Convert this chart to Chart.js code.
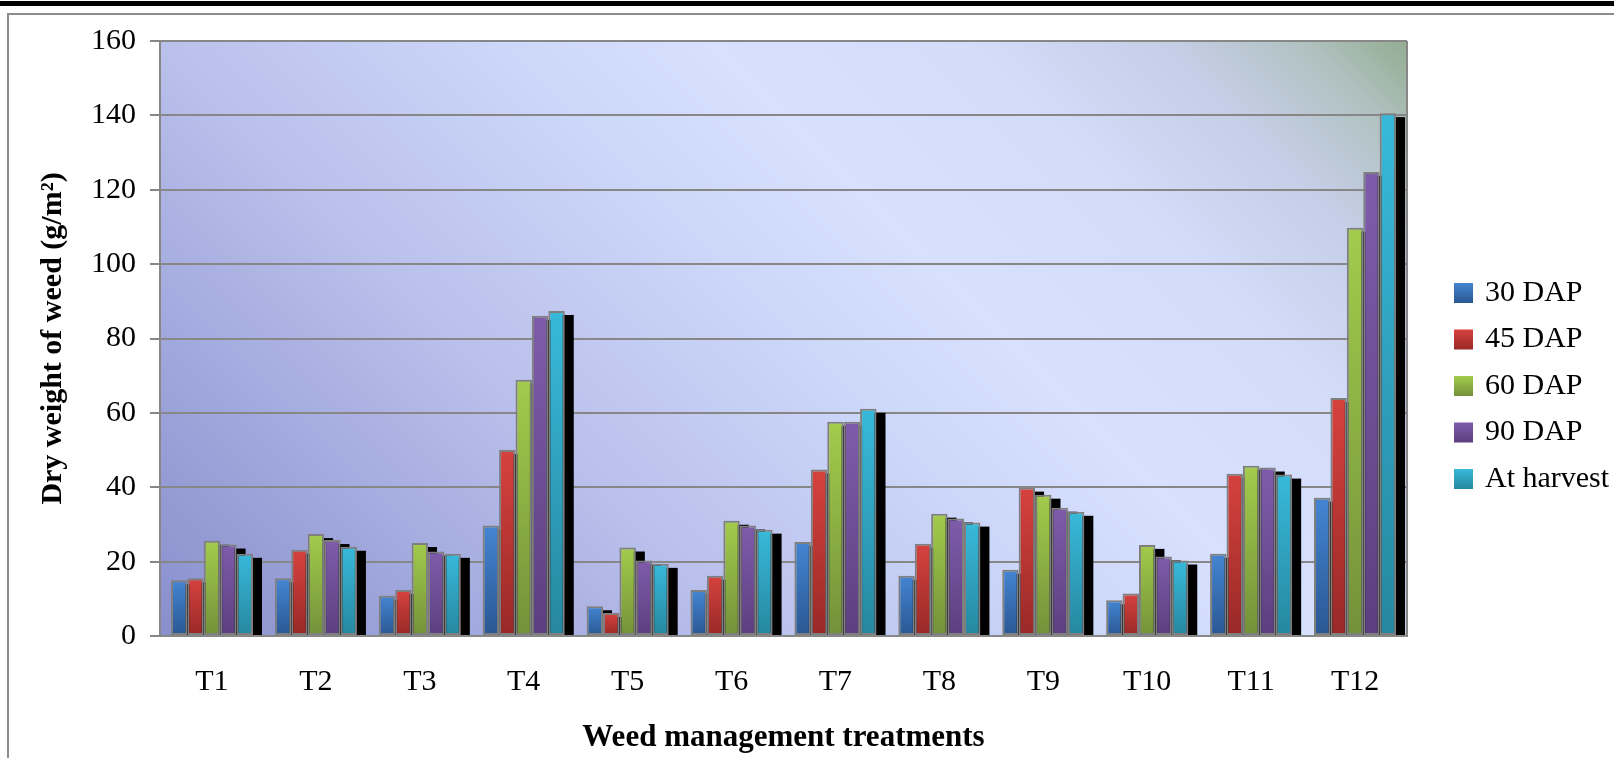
<!DOCTYPE html>
<html>
<head>
<meta charset="utf-8">
<script src="https://cdn.jsdelivr.net/npm/chart.js@4.4.1/dist/chart.umd.min.js"></script>
<style>
html,body{margin:0;padding:0;background:#fff;overflow:hidden}
#wrap{position:relative;width:1614px;height:758px}
canvas{display:block}
</style>
</head>
<body>
<div id="wrap"><canvas id="c" width="1614" height="758"></canvas></div>
<script>
// ---- data ----
const categories = ['T1','T2','T3','T4','T5','T6','T7','T8','T9','T10','T11','T12'];
const dap30     = [15.0, 15.5, 10.8, 29.7, 8.0, 12.4, 25.3, 16.2, 17.8, 9.6, 22.1, 37.2];
const dap45     = [15.5, 23.2, 12.4, 50.0, 6.2, 16.2, 44.8, 24.8, 39.9, 11.4, 43.6, 64.0];
const dap60     = [25.6, 27.4, 25.0, 68.9, 23.8, 31.0, 57.6, 32.9, 38.0, 24.5, 45.8, 109.8];
const dap90     = [24.6, 25.8, 22.7, 86.1, 20.3, 29.7, 57.6, 31.6, 34.5, 21.4, 45.3, 124.8];
const atHarvest = [22.1, 24.0, 22.1, 87.4, 19.4, 28.6, 61.1, 30.5, 33.4, 20.3, 43.4, 140.6];
const seriesNames = ['30 DAP','45 DAP','60 DAP','90 DAP','At harvest'];
const yTickValues = [0, 20, 40, 60, 80, 100, 120, 140, 160];
const xTitle = 'Weed management treatments';
const yTitle = 'Dry weight of weed (g/m\u00B2)';

// ---- styles ----
const FONT = "'Liberation Serif', 'Times New Roman', serif";
const GRID = '#878787';
const palette = [
  ['#4485d2', '#2a5792'],
  ['#d6423e', '#982927'],
  ['#a3cb4c', '#73913a'],
  ['#7f5cab', '#5c3f7f'],
  ['#38b9da', '#26879f']
];

function barFill(idx) {
  return function (ctx) {
    const chart = ctx.chart;
    const ys = chart.scales && chart.scales.y;
    if (!chart.chartArea || !ys || ctx.type !== 'data') return palette[idx][0];
    const v = ctx.parsed ? ctx.parsed.y : ctx.raw;
    const top = ys.getPixelForValue(v), base = ys.getPixelForValue(0);
    if (!isFinite(top) || !isFinite(base) || base - top < 1) return palette[idx][0];
    const g = chart.ctx.createLinearGradient(0, top, 0, base);
    g.addColorStop(0, palette[idx][0]);
    g.addColorStop(1, palette[idx][1]);
    return g;
  };
}

const frameAndBackground = {
  id: 'frameAndBackground',
  beforeDraw(chart) {
    const { ctx, chartArea: a, width, height } = chart;
    ctx.save();
    ctx.fillStyle = '#fff';
    ctx.fillRect(0, 0, width, height);
    // outer frame
    ctx.fillStyle = '#000';
    ctx.fillRect(0, 1, width, 5);
    ctx.strokeStyle = '#8c8c8c';
    ctx.lineWidth = 2;
    ctx.strokeRect(8, 14, width + 20, height + 20);
    // plot area gradient (45 degrees, bottom-left to top-right)
    const L = (a.right - a.left + a.bottom - a.top) / 2;
    const g = ctx.createLinearGradient(a.left, a.bottom, a.left + L, a.bottom - L);
    g.addColorStop(0.00, '#888fcc');
    g.addColorStop(0.16, '#a0a7dc');
    g.addColorStop(0.32, '#b9c0eb');
    g.addColorStop(0.50, '#ccd6f8');
    g.addColorStop(0.62, '#d7e0fe');
    g.addColorStop(0.76, '#d3dcf9');
    g.addColorStop(0.87, '#c4cee6');
    g.addColorStop(0.94, '#b2c2c2');
    g.addColorStop(1.00, '#93ac91');
    ctx.fillStyle = g;
    ctx.fillRect(a.left, a.top, a.right - a.left, a.bottom - a.top);
    ctx.restore();
  },
  afterDraw(chart) {
    const { ctx, chartArea: a } = chart;
    ctx.save();
    ctx.strokeStyle = GRID;
    ctx.lineWidth = 2;
    ctx.beginPath();
    ctx.moveTo(a.right, a.top);
    ctx.lineTo(a.right, a.bottom);
    ctx.stroke();
    ctx.restore();
  }
};

const barShadow = {
  id: 'barShadow',
  beforeDatasetsDraw(chart) {
    const ctx = chart.ctx;
    ctx.save();
    ctx.fillStyle = '#000';
    chart.data.datasets.forEach((ds, i) => {
      const meta = chart.getDatasetMeta(i);
      meta.data.forEach(bar => {
        const p = bar.getProps(['x', 'y', 'base', 'width'], true);
        const h = p.base - p.y - 4;
        if (h > 0) ctx.fillRect(p.x - p.width / 2 + 11, p.y + 4, p.width - 2, h);
      });
    });
    ctx.restore();
  }
};

const sideLegend = {
  id: 'sideLegend',
  afterDraw(chart) {
    const { ctx, chartArea: a } = chart;
    const x0 = a.right + 47;
    const y0 = a.top + 242;
    ctx.save();
    ctx.font = '30px ' + FONT;
    ctx.textBaseline = 'middle';
    ctx.textAlign = 'left';
    chart.data.datasets.forEach((ds, i) => {
      const y = y0 + i * 46.5;
      const g = ctx.createLinearGradient(0, y, 0, y + 20);
      g.addColorStop(0, palette[i][0]);
      g.addColorStop(1, palette[i][1]);
      ctx.fillStyle = g;
      ctx.fillRect(x0, y, 19, 20);
      ctx.fillStyle = '#000';
      ctx.fillText(ds.label, x0 + 31, y + 10);
    });
    ctx.restore();
  }
};

const seriesValues = [dap30, dap45, dap60, dap90, atHarvest];

new Chart(document.getElementById('c'), {
  type: 'bar',
  data: {
    labels: categories,
    datasets: seriesValues.map((vals, i) => ({
      label: seriesNames[i],
      data: vals,
      backgroundColor: barFill(i),
      borderColor: '#7f7f7f',
      borderWidth: 2,
      borderSkipped: false,
      categoryPercentage: 0.79,
      barPercentage: 1.0
    }))
  },
  options: {
    responsive: false,
    devicePixelRatio: 1,
    animation: false,
    layout: { padding: { left: 0, top: 41, right: 207, bottom: 0 } },
    plugins: {
      legend: { display: false },
      tooltip: { enabled: false }
    },
    scales: {
      x: {
        grid: { display: false, drawTicks: false },
        border: { display: true, color: GRID, width: 2 },
        ticks: { color: '#000', font: { family: FONT, size: 30 }, padding: 28, maxRotation: 0 },
        title: { display: true, text: xTitle, color: '#000',
                 font: { family: FONT, size: 31, weight: 'bold' }, padding: { top: 0, bottom: 1 } },
        afterFit(s) { s.height = 122; }
      },
      y: {
        min: 0, max: 160,
        afterBuildTicks(s) { s.ticks = yTickValues.map(v => ({ value: v })); },
        grid: { color: GRID, lineWidth: 2, tickLength: 10, drawTicks: true },
        border: { display: true, color: GRID, width: 2 },
        ticks: { color: '#000', font: { family: FONT, size: 30 }, padding: 14 },
        title: { display: true, text: yTitle, color: '#000',
                 font: { family: FONT, size: 30, weight: 'bold' }, padding: { top: 35, bottom: 0 } },
        afterFit(s) { s.width = 160; }
      }
    }
  },
  plugins: [frameAndBackground, barShadow, sideLegend]
});
</script>
</body>
</html>
